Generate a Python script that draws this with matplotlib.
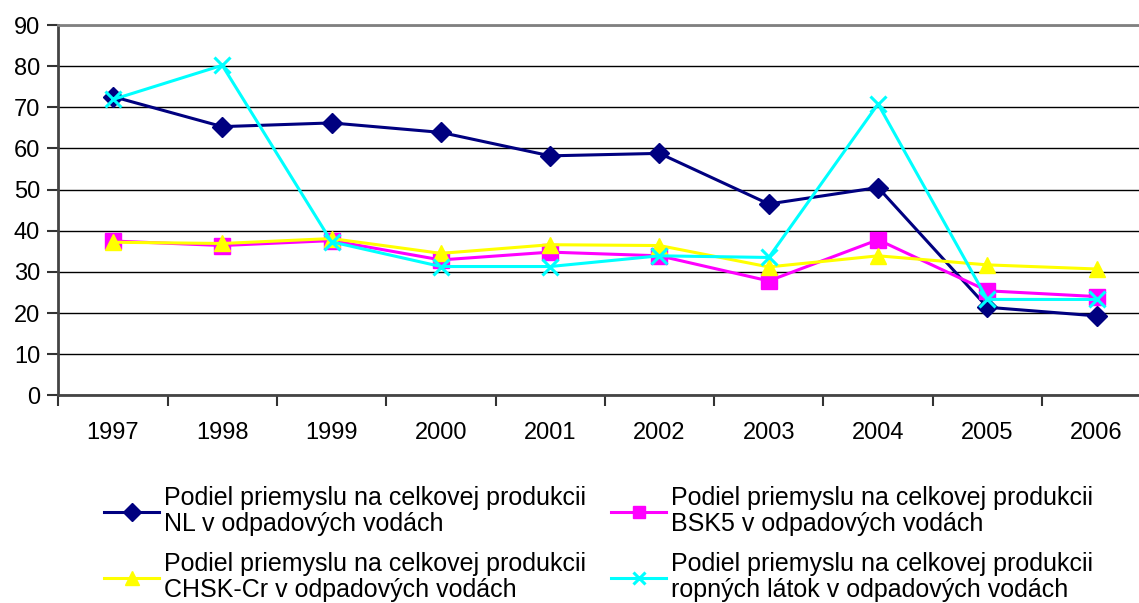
import matplotlib
matplotlib.use("Agg")
import matplotlib.pyplot as plt
from matplotlib.ticker import FixedLocator, MultipleLocator

plt.rcParams['font.family'] = ['Liberation Sans', 'DejaVu Sans']

years = ["1997", "1998", "1999", "2000", "2001", "2002", "2003", "2004", "2005", "2006"]

nl = [72.6, 65.3, 66.2, 63.9, 58.2, 58.8, 46.5, 50.5, 21.4, 19.3]
bsk5 = [37.5, 36.4, 37.6, 32.9, 34.8, 33.9, 27.8, 37.8, 25.4, 24.0]
chsk_cr = [37.2, 36.9, 38.1, 34.5, 36.6, 36.4, 31.2, 33.9, 31.7, 30.7]
ropne = [71.9, 80.2, 37.3, 31.3, 31.3, 33.9, 33.5, 70.8, 23.3, 23.3]

labels = [
    "Podiel priemyslu na celkovej produkcii\nNL v odpadových vodách",
    "Podiel priemyslu na celkovej produkcii\nBSK5 v odpadových vodách",
    "Podiel priemyslu na celkovej produkcii\nCHSK-Cr v odpadových vodách",
    "Podiel priemyslu na celkovej produkcii\nropných látok v odpadových vodách",
]

W, H = 1139, 603
fig = plt.figure(figsize=(W / 100, H / 100), dpi=100)
left_px, top_px, bottom_px = 58.3, 25, 395.3
width_px = 1093
ax = fig.add_axes([left_px / W, 1 - bottom_px / H, width_px / W, (bottom_px - top_px) / H])

x = list(range(len(years)))
l1, = ax.plot(x, nl, color="#000080", lw=2.2, marker="D", ms=10.5, mfc="#000080", mec="#000080")
l2, = ax.plot(x, bsk5, color="#FF00FF", lw=2.2, marker="s", ms=11, mfc="#FF00FF", mec="#FF00FF")
l3, = ax.plot(x, chsk_cr, color="#FFFF00", lw=2.2, marker="^", ms=12, mfc="#FFFF00", mec="#FFFF00")
l4, = ax.plot(x, ropne, color="#00FFFF", lw=2.2, marker="x", ms=11, mew=2.2)

ax.set_xlim(-0.5, len(years) - 0.5)
ax.set_ylim(0, 90)
ax.yaxis.set_major_locator(MultipleLocator(10))
ax.grid(axis="y", color="black", lw=1.0)
ax.set_axisbelow(True)

ax.set_xticks(x)
ax.set_xticklabels(years)
ax.xaxis.set_minor_locator(FixedLocator([i - 0.5 for i in range(len(years) + 1)]))
ax.tick_params(axis="x", which="major", length=0, pad=19, labelsize=17)
ax.tick_params(axis="x", which="minor", length=8, width=1.5, color="#333333", direction="out")
ax.tick_params(axis="y", length=8, width=1.5, color="#333333", labelsize=17, pad=5)

for side in ("left", "bottom"):
    ax.spines[side].set_color("#444444")
    ax.spines[side].set_linewidth(2.0)
ax.spines["top"].set_color("#808080")
ax.spines["top"].set_linewidth(2.0)
ax.spines["right"].set_visible(False)

leg = fig.legend([l1, l3, l2, l4], [labels[0], labels[2], labels[1], labels[3]],
                 ncol=2, loc="upper left", bbox_to_anchor=(104 / W, 1 - 486 / H),
                 frameon=False, fontsize=18, handlelength=2.2, handletextpad=0.2,
                 columnspacing=1.0, labelspacing=0.66, borderpad=0, borderaxespad=0,
                 markerscale=0.85)
for t in leg.get_texts():
    t.set_linespacing(1.1)

fig.savefig("out.png", dpi=100)
